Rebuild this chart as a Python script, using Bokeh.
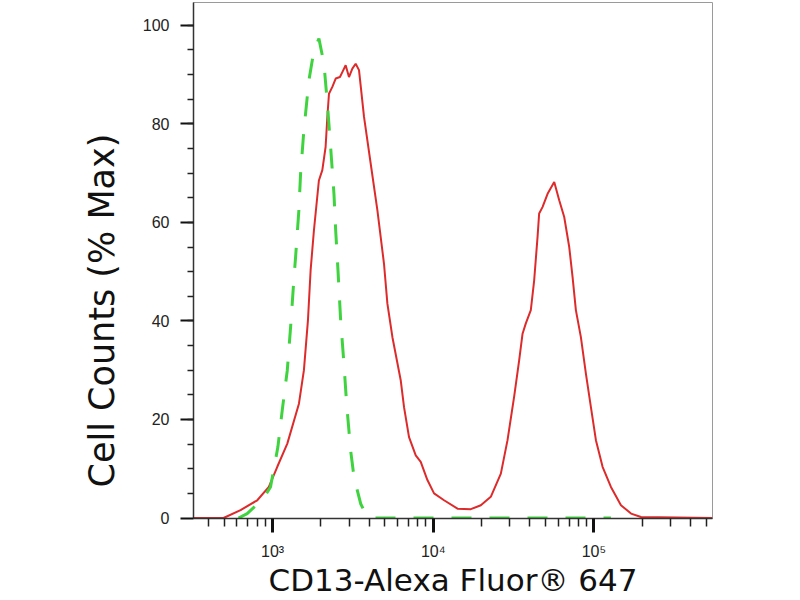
import math
from bokeh.plotting import figure
from bokeh.models import Range1d, FixedTicker, Title, CustomJSTickFormatter
from bokeh.embed import file_html
from bokeh.resources import INLINE

# ---------------- data ----------------
# Sample (red, solid): fluorescence intensity vs % of max
red_x = [322, 495, 632, 803, 948, 1070, 1235, 1459, 1567, 1660, 1725, 1809,
         1942, 2040, 2138, 2192, 2244, 2355, 2471, 2626, 2718, 2850, 2989,
         3137, 3290, 3451, 3708, 4081, 4490, 4937, 5183, 5571, 6278, 6579,
         7067, 7780, 8358, 9198, 10116, 11674, 14158, 17140, 19780, 22810,
         26350, 28990, 31860, 34250, 35960, 37680, 40480, 42460, 44570,
         45610, 47860, 51470, 56620, 60810, 65330, 70190, 73650, 77210,
         82950, 89130, 95770, 102900, 113200, 127600, 147300, 170200,
         196400, 547000]
red_y = [0, 0, 1.6, 3.6, 6.3, 10.4, 15.1, 23.2, 30.0, 40.1, 50.3, 58.4,
         68.5, 70.6, 75.3, 81.4, 86.1, 87.5, 89.2, 89.5, 90.5, 91.9, 89.5,
         91.2, 92.2, 90.9, 81.4, 71.9, 62.5, 51.6, 43.5, 36.7, 27.9, 22.5,
         16.4, 12.7, 11.4, 7.7, 5.0, 3.6, 1.9, 1.8, 2.6, 4.3,
         9.0, 15.8, 24.6, 32.0, 37.4, 39.5, 42.2, 48.2, 57.0,
         61.8, 63.1, 65.8, 68.2, 64.5, 61.1, 55.0, 48.9, 42.2,
         36.7, 29.3, 22.5, 15.8, 10.4, 6.3, 2.6, 0.9,
         0.2, 0]

# Isotype control (green, dashed)
green_x = [614, 695, 879, 971, 1079, 1149, 1235, 1295, 1358, 1391, 1458, 1494,
           1566, 1683, 1809, 1943, 2089, 2193, 2298, 2410, 2470, 2553, 2653,
           2781, 2890, 3061, 3212, 3534, 3889, 4200, 127600]
green_y = [0, 0.9, 4.0, 6.3, 14.4, 21.9, 30.0, 38.8, 48.6, 53.0, 62.5, 69.9,
           78.7, 88.8, 94.9, 97.3, 92.2, 84.1, 75.3, 65.8, 58.4, 50.3, 40.1,
           31.3, 23.2, 13.7, 8.3, 2.9, 0.2, 0, 0]

# axis ticks / labels
x_major = [1e3, 1e4, 1e5]
x_tick_labels = ["10\u00b3", "10\u2074", "10\u2075"]
y_major = [0, 20, 40, 60, 80, 100]

x_title = "CD13-Alexa Fluor\u00ae 647"
y_title = "Cell Counts (% Max)"

# ---------------- figure ----------------
p = figure(width=800, height=600, x_axis_type="log",
           x_range=Range1d(322, 547000), y_range=Range1d(-0.1, 104.63),
           output_backend="svg", toolbar_location=None,
           min_border_left=193, min_border_right=88,
           min_border_top=2, min_border_bottom=82)
p.background_fill_color = "white"
p.border_fill_color = "white"
p.outline_line_color = "#9a9a9a"
p.outline_line_width = 1
p.xgrid.visible = False
p.ygrid.visible = False

# curves
p.line(red_x, red_y, line_color="#dd2b2b", line_width=2)
p.line(green_x, green_y, line_color="#3fd43f", line_width=3, line_dash="20 18")

# x axis
x_minor = [m * 10 ** e for e in range(2, 6) for m in range(2, 10)]
p.xaxis.ticker = FixedTicker(ticks=x_major, minor_ticks=x_minor)
p.xaxis.formatter = CustomJSTickFormatter(
    args=dict(vals=x_major, labs=x_tick_labels),
    code="const i = vals.indexOf(tick); return i >= 0 ? labs[i] : '';")
p.xaxis.axis_line_color = "#333333"
p.xaxis.axis_line_width = 1.5
p.xaxis.major_tick_in = 0
p.xaxis.major_tick_out = 14
p.xaxis.major_tick_line_width = 3
p.xaxis.major_tick_line_color = "#111111"
p.xaxis.minor_tick_in = 0
p.xaxis.minor_tick_out = 8
p.xaxis.minor_tick_line_width = 1.5
p.xaxis.minor_tick_line_color = "#222222"
p.xaxis.major_label_standoff = 10
p.xaxis.major_label_text_font = "Liberation Sans"
p.xaxis.major_label_text_font_size = "16px"
p.xaxis.major_label_text_color = "#222222"
p.xaxis.axis_label = x_title
p.xaxis.axis_label_standoff = -1
p.xaxis.axis_label_text_font = "DejaVu Sans"
p.xaxis.axis_label_text_font_size = "31px"
p.xaxis.axis_label_text_font_style = "normal"
p.xaxis.axis_label_text_color = "#111111"

# y axis
p.yaxis.ticker = FixedTicker(ticks=y_major, minor_ticks=list(range(5, 105, 5)))
p.yaxis.axis_line_color = "#333333"
p.yaxis.axis_line_width = 1.5
p.yaxis.major_tick_in = 0
p.yaxis.major_tick_out = 13
p.yaxis.major_tick_line_width = 2
p.yaxis.major_tick_line_color = "#111111"
p.yaxis.minor_tick_in = 0
p.yaxis.minor_tick_out = 6
p.yaxis.minor_tick_line_width = 1.5
p.yaxis.minor_tick_line_color = "#222222"
p.yaxis.major_label_standoff = 11
p.yaxis.major_label_text_font = "Liberation Sans"
p.yaxis.major_label_text_font_size = "16px"
p.yaxis.major_label_text_color = "#222222"

# y title as a side-panel title so it can be shifted along the axis
p.add_layout(Title(text=y_title, align="left", offset=31, standoff=35,
                   text_font="DejaVu Sans", text_font_size="35px",
                   text_font_style="normal", text_color="#111111"), "left")

open("out.html", "w").write(file_html(p, INLINE))
